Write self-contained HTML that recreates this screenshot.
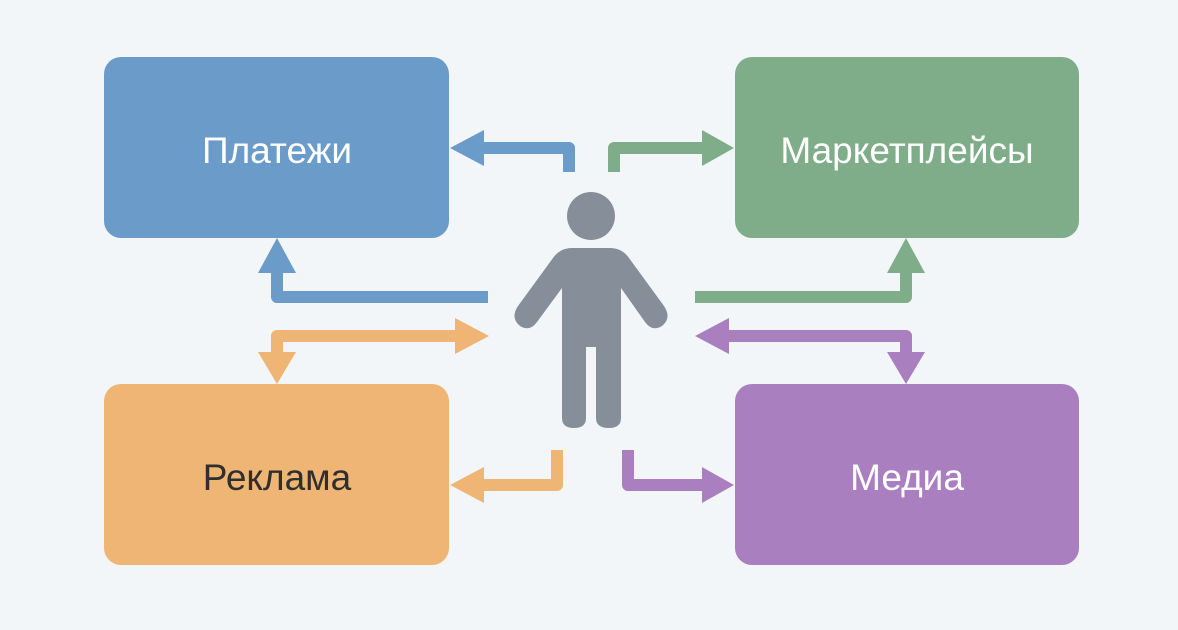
<!DOCTYPE html>
<html><head><meta charset="utf-8"><style>
html,body{margin:0;padding:0;background:#f3f6f9;}
svg{display:block;}
text{font-family:"Liberation Sans","DejaVu Sans",sans-serif;font-size:37px;}
</style></head><body>
<svg width="1178" height="630" viewBox="0 0 1178 630" xmlns="http://www.w3.org/2000/svg">
<rect width="1178" height="630" fill="#f3f6f9"/>
<rect x="104" y="57" width="345" height="181" rx="17" fill="#6b9bc8"/>
<rect x="735" y="57" width="344" height="181" rx="17" fill="#7fad89"/>
<rect x="104" y="384" width="345" height="181" rx="17" fill="#efb574"/>
<rect x="735" y="384" width="344" height="181" rx="17" fill="#a97fbf"/>
<text x="277" y="163" text-anchor="middle" fill="#fff">Платежи</text>
<text x="907" y="163" text-anchor="middle" fill="#fff">Маркетплейсы</text>
<text x="277" y="490" text-anchor="middle" fill="#2f2f2f">Реклама</text>
<text x="907" y="490" text-anchor="middle" fill="#fff">Медиа</text>

<g fill="none" stroke-width="12" stroke-linejoin="round">
<polyline points="569,172 569,148 482,148" stroke="#6b9bc8"/>
<polyline points="488,297 277,297 277,270" stroke="#6b9bc8"/>
<polyline points="614,172 614,148 704,148" stroke="#7fad89"/>
<polyline points="695,297 906,297 906,270" stroke="#7fad89"/>
<polyline points="456,336 277,336 277,354" stroke="#efb574"/>
<polyline points="557,450 557,485 482,485" stroke="#efb574"/>
<polyline points="727,336 906,336 906,354" stroke="#a97fbf"/>
<polyline points="628,450 628,485 704,485" stroke="#a97fbf"/>
</g>
<polygon points="450,148 484,130 484,166" fill="#6b9bc8"/>
<polygon points="277,238 258,273 296,273" fill="#6b9bc8"/>
<polygon points="734,148 702,130 702,166" fill="#7fad89"/>
<polygon points="906,238 887,273 925,273" fill="#7fad89"/>
<polygon points="489,336 455,318 455,354" fill="#efb574"/>
<polygon points="277,384 258,352 296,352" fill="#efb574"/>
<polygon points="450,485 484,467 484,503" fill="#efb574"/>
<polygon points="695,336 729,318 729,354" fill="#a97fbf"/>
<polygon points="906,384 887,352 925,352" fill="#a97fbf"/>
<polygon points="734,485 702,467 702,503" fill="#a97fbf"/>

<g fill="#858e99">
<circle cx="591" cy="216" r="24"/>
<path d="M572,248 L610,248 Q622,248 629,258 L664,306 Q672,318 662,326 Q652,332 645,322 L621,288 L621,418 Q621,428 609,428 Q596,428 596,418 L596,347 L586,347 L586,418 Q586,428 574,428 Q562,428 562,418 L562,288 L537,322 Q530,332 520,326 Q510,318 518,306 L553,258 Q560,248 572,248 Z"/>
</g>
</svg>
</body></html>
